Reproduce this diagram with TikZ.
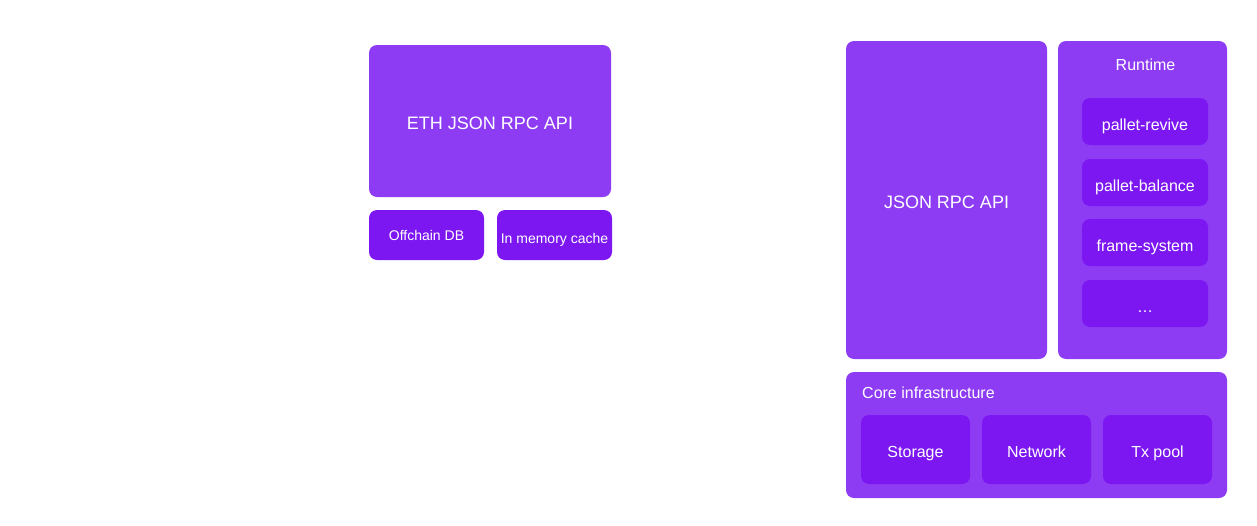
\documentclass[tikz,border=0pt]{standalone}
\usepackage{fontspec}
\setmainfont{Liberation Sans}
\usepackage{tikz}

\definecolor{lightpurple}{RGB}{142,60,243}
\definecolor{deeppurple}{RGB}{124,23,242}

\tikzset{
    outerbox/.style={fill=lightpurple, rounded corners=8pt, inner sep=0pt, text=white, text depth=0pt},
    innerbox/.style={fill=deeppurple, rounded corners=8pt, inner sep=0pt, text=white, text depth=0pt},
    bigfont/.style={font=\fontsize{18}{22}\selectfont},
    midfont/.style={font=\fontsize{16}{19}\selectfont},
    smallfont/.style={font=\fontsize{14}{17}\selectfont}
}

\begin{document}
\begin{tikzpicture}[x=1pt,y=-1pt]
            \useasboundingbox (0,0) rectangle (1257,525);

            % left part
            \node[outerbox,bigfont,text height=16.6pt,minimum width=242pt,minimum height=152pt] (eth) at (490,121) {ETH JSON RPC API};
            \node[innerbox,smallfont,text height=10pt,minimum width=115pt,minimum height=50pt] (offchain) at (426.5,235) {Offchain DB};
            \node[innerbox,smallfont,text height=16.6pt,minimum width=115pt,minimum height=50pt] (cache) at (554.5,235) {In memory cache};

            % right part
            \node[outerbox,bigfont,text height=16.6pt,minimum width=201pt,minimum height=318pt] (rpc) at (946.5,200) {JSON RPC API};
            \node[outerbox,minimum width=169pt,minimum height=318pt] (runtime) at (1142.5,200) {};
            \node[midfont,text=white,inner sep=0pt,text height=12.8pt,text depth=0pt] (runtimelabel) at (1145.5,64) {Runtime};

            \foreach \name/\y/\txt in {revive/121.5/pallet-revive,balance/182.5/pallet-balance,system/242.5/frame-system,more/303.5/\dots}{
                \node[innerbox,midfont,text height=17pt,minimum width=126pt,minimum height=47pt] (\name) at (1145,\y) {\txt};
            }

            \node[outerbox,minimum width=381pt,minimum height=126pt] (core) at (1036.5,435) {};
            \node[midfont,text=white,anchor=west,inner sep=0pt,text height=12.8pt,text depth=0pt] (corelabel) at (862,392) {Core infrastructure};

            \foreach \name/\x/\txt in {storage/915.5/Storage,network/1036.5/Network,txpool/1157.5/Tx pool}{
                \node[innerbox,midfont,text height=15pt,minimum width=109pt,minimum height=69pt] (\name) at (\x,449.5) {\txt};
            }

        \end{tikzpicture}
\end{document}
